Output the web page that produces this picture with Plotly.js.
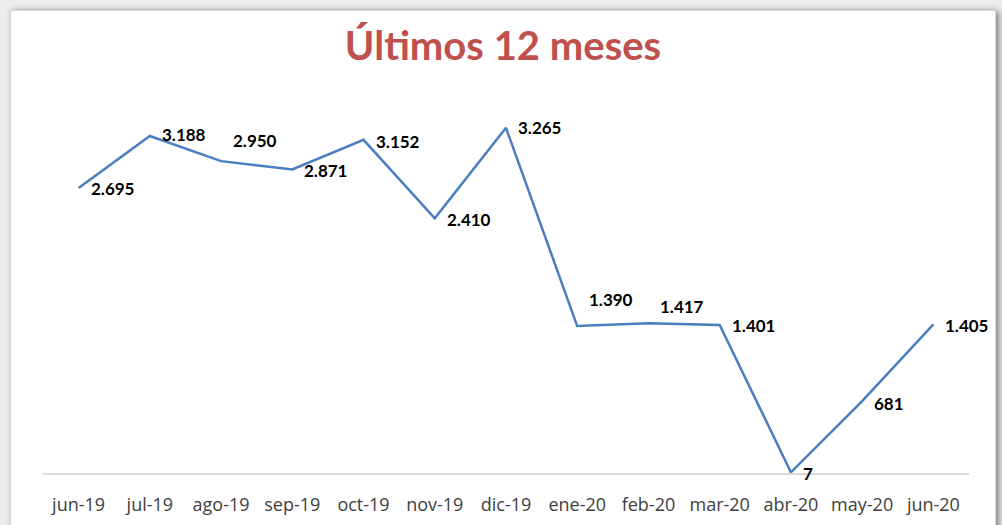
<!DOCTYPE html>
<html>
<head>
<meta charset="utf-8">
<script src="https://cdn.plot.ly/plotly-3.0.1.min.js"></script>
<style>
  html, body { margin: 0; padding: 0; }
  body { width: 1002px; height: 525px; background: #ededed; position: relative; overflow: hidden; }
  #card { position: absolute; left: 10px; top: 10px; width: 984px; height: 530px; background: #ffffff;
          border: 1px solid #d4d4d4; box-shadow: 3px 1px 7px rgba(0,0,0,0.45); }
  #chart { position: absolute; left: 0; top: 0; width: 1002px; height: 525px; }
</style>
</head>
<body>
<div id="card"></div>
<div id="chart"></div>
<script>
// ---- data ----
var months = ["jun-19", "jul-19", "ago-19", "sep-19", "oct-19", "nov-19", "dic-19",
              "ene-20", "feb-20", "mar-20", "abr-20", "may-20", "jun-20"];
var values = [2695, 3188, 2950, 2871, 3152, 2410, 3265, 1390, 1417, 1401, 7, 681, 1405];
var chartTitle = "Últimos 12 meses";

// label vertical nudges (pixels), styling only
var labelShiftY = [0, 1, 21, -1, -2, -1, 0, 27, 17, -1, -1, -2, -1];

function fmt(v) {
  return String(v).replace(/\B(?=(\d{3})+(?!\d))/g, ".");
}

var trace = {
  type: "scatter",
  mode: "lines",
  x: months,
  y: values,
  line: { color: "#4A7EC1", width: 2.5 },
  hoverinfo: "skip",
  cliponaxis: false
};

var annotations = months.map(function (m, i) {
  return {
    x: m, y: values[i], xref: "x", yref: "y",
    text: fmt(values[i]),
    showarrow: false,
    xanchor: "left", yanchor: "middle",
    xshift: 10, yshift: labelShiftY[i],
    font: { family: "Lato, 'DejaVu Sans', sans-serif", size: 17, color: "#000000", weight: 700 }
  };
});

var layout = {
  width: 1002, height: 525,
  paper_bgcolor: "rgba(0,0,0,0)",
  plot_bgcolor: "rgba(0,0,0,0)",
  margin: { l: 43, r: 33, t: 103, b: 52, pad: 0 },
  showlegend: false,
  title: {
    text: chartTitle,
    font: { family: "Lato, 'DejaVu Sans', sans-serif", size: 40, color: "#C0504D", weight: 700 },
    xref: "container", x: 0.502, xanchor: "center",
    yref: "container", y: 0.912, yanchor: "middle"
  },
  xaxis: {
    type: "category",
    range: [-0.5, 12.5],
    showline: true, linecolor: "#D9D9D9", linewidth: 1.5,
    showgrid: false, zeroline: false, ticks: "",
    ticklabelstandoff: 15,
    tickfont: { family: "'Open Sans', sans-serif", size: 18, color: "#404040" },
    fixedrange: true
  },
  yaxis: {
    range: [0, 3500],
    visible: false, showgrid: false, zeroline: false,
    fixedrange: true
  },
  annotations: annotations
};

Plotly.newPlot("chart", [trace], layout, { staticPlot: true, displayModeBar: false });
</script>
</body>
</html>
